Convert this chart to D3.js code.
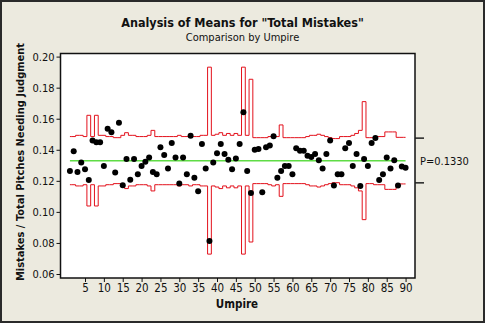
<!DOCTYPE html>
<html>
<head>
<meta charset="utf-8">
<script src="https://cdn.jsdelivr.net/npm/d3@7"></script>
<style>
  html, body { margin: 0; padding: 0; background: #eceadf; }
  body { width: 485px; height: 323px; overflow: hidden; }
  svg { display: block; }
  text { font-family: "DejaVu Sans Condensed", "DejaVu Sans", sans-serif; fill: #111; }
</style>
</head>
<body>
<svg id="chart" width="485" height="323"></svg>
<script>
// Umpire numbers 1..90
const umpires = d3.range(1, 91);

// Proportion of mistakes per umpire
const proportions = [
  0.1263, 0.1390, 0.1257, 0.1318, 0.1274, 0.1205, 0.1459, 0.1448, 0.1448, 0.1295,
  0.1535, 0.1513, 0.1253, 0.1574, 0.1172, 0.1340, 0.1207, 0.1340, 0.1242, 0.1295,
  0.1323, 0.1350, 0.1257, 0.1242, 0.1416, 0.1366, 0.1279, 0.1444, 0.1351, 0.1183,
  0.1350, 0.1242, 0.1491, 0.1220, 0.1133, 0.1437, 0.1279, 0.0812, 0.1318, 0.1377,
  0.1437, 0.1372, 0.1335, 0.1274, 0.1344, 0.1437, 0.1642, 0.1263, 0.1122, 0.1400,
  0.1405, 0.1126, 0.1416, 0.1428, 0.1487, 0.1220, 0.1263, 0.1295, 0.1295, 0.1242,
  0.1409, 0.1394, 0.1394, 0.1361, 0.1354, 0.1372, 0.1333, 0.1279, 0.1372, 0.1459,
  0.1170, 0.1242, 0.1242, 0.1409, 0.1444, 0.1295, 0.1372, 0.1166, 0.1340, 0.1295,
  0.1444, 0.1476, 0.1205, 0.1242, 0.1351, 0.1279, 0.1333, 0.1170, 0.1292, 0.1285
];

// Half-width of the decision limits per umpire (depends on sample size)
const halfWidths = [
  0.0155, 0.0155, 0.0163, 0.0163, 0.0155, 0.0292, 0.0155, 0.0292, 0.0163, 0.0163,
  0.0155, 0.0155, 0.0148, 0.0148, 0.0163, 0.0180, 0.0163, 0.0163, 0.0155, 0.0155,
  0.0155, 0.0163, 0.0195, 0.0155, 0.0155, 0.0155, 0.0155, 0.0155, 0.0155, 0.0163,
  0.0155, 0.0155, 0.0163, 0.0155, 0.0155, 0.0163, 0.0163, 0.0602, 0.0163, 0.0170,
  0.0180, 0.0163, 0.0175, 0.0163, 0.0175, 0.0163, 0.0602, 0.0163, 0.0524, 0.0148,
  0.0148, 0.0148, 0.0148, 0.0155, 0.0163, 0.0155, 0.0230, 0.0148, 0.0148, 0.0148,
  0.0148, 0.0148, 0.0148, 0.0155, 0.0163, 0.0163, 0.0170, 0.0163, 0.0155, 0.0148,
  0.0142, 0.0142, 0.0155, 0.0155, 0.0155, 0.0163, 0.0175, 0.0195, 0.0380, 0.0148,
  0.0148, 0.0155, 0.0155, 0.0155, 0.0185, 0.0185, 0.0185, 0.0150, 0.0150, 0.0150
];

const centerP = 0.1330;
const sideMarks = [0.1475, 0.1187];

const yTicks = [0.06, 0.08, 0.10, 0.12, 0.14, 0.16, 0.18, 0.20];
const xTicks = d3.range(5, 91, 5);

const titleText = 'Analysis of Means for "Total Mistakes"';
const subtitleText = "Comparison by Umpire";
const xLabel = "Umpire";
const yLabel = "Mistakes / Total Pitches Needing Judgment";

const W = 485, H = 323;
const frame = { left: 60.5, right: 415, top: 53.5, bottom: 278 };

const svg = d3.select("#chart");

// page background and outer border
svg.append("rect").attr("x", 0).attr("y", 0).attr("width", W).attr("height", H)
  .attr("fill", "#eceadf");
svg.append("rect").attr("x", 1).attr("y", 1).attr("width", W - 2).attr("height", H - 2)
  .attr("fill", "none").attr("stroke", "#2a2a2a").attr("stroke-width", 2);

const x = d3.scaleLinear().domain([-1.5, 92.5]).range([frame.left, frame.right]);
const y = d3.scaleLinear().domain([0.06, 0.20]).range([274, 56.6]);

// plot area
svg.append("rect")
  .attr("x", frame.left).attr("y", frame.top)
  .attr("width", frame.right - frame.left).attr("height", frame.bottom - frame.top)
  .attr("fill", "#ffffff");

// axes
const yAxis = svg.append("g")
  .attr("transform", `translate(${frame.left},0)`)
  .call(d3.axisLeft(y).tickValues(yTicks).tickFormat(d3.format(".2f")).tickSize(4).tickPadding(2));
yAxis.select(".domain").remove();
yAxis.selectAll("line").attr("stroke", "#111");
yAxis.selectAll("text").attr("font-size", 11).attr("font-family", null);

const xAxis = svg.append("g")
  .attr("transform", `translate(0,${frame.bottom})`)
  .call(d3.axisBottom(x).tickValues(xTicks).tickFormat(d3.format("d")).tickSize(4).tickPadding(2));
xAxis.select(".domain").remove();
xAxis.selectAll("line").attr("stroke", "#111");
xAxis.selectAll("text").attr("font-size", 11.5).attr("font-family", null);

// decision limits (stepped), drawn per umpire
const stepLine = d3.line().curve(d3.curveStep).x(d => x(d[0])).y(d => y(d[1]));
const upper = umpires.map((u, i) => [u, centerP + halfWidths[i]]);
const lower = umpires.map((u, i) => [u, centerP - halfWidths[i]]);

svg.append("path").datum(upper).attr("d", stepLine)
  .attr("fill", "none").attr("stroke", "#e3111c").attr("stroke-width", 1);
svg.append("path").datum(lower).attr("d", stepLine)
  .attr("fill", "none").attr("stroke", "#e3111c").attr("stroke-width", 1);

// center line
svg.append("line")
  .attr("x1", x(umpires[0])).attr("x2", x(umpires[umpires.length - 1]))
  .attr("y1", y(centerP)).attr("y2", y(centerP))
  .attr("stroke", "#5fdc45").attr("stroke-width", 1.5);

// points
svg.append("g").selectAll("circle")
  .data(umpires.map((u, i) => [u, proportions[i]]))
  .join("circle")
  .attr("cx", d => x(d[0])).attr("cy", d => y(d[1]))
  .attr("r", 3).attr("fill", "#000");

// frame
svg.append("rect")
  .attr("x", frame.left).attr("y", frame.top)
  .attr("width", frame.right - frame.left).attr("height", frame.bottom - frame.top)
  .attr("fill", "none").attr("stroke", "#111").attr("stroke-width", 1.5);

// side marks for the decision limits
svg.append("g").selectAll("line")
  .data(sideMarks)
  .join("line")
  .attr("x1", frame.right).attr("x2", frame.right + 9)
  .attr("y1", d => y(d)).attr("y2", d => y(d))
  .attr("stroke", "#222").attr("stroke-width", 1.5);

// center value label
svg.append("text")
  .attr("x", 420).attr("y", y(centerP) + 4)
  .attr("font-size", 11)
  .text("P=" + centerP.toFixed(4));

// titles
svg.append("text")
  .attr("x", 242.5).attr("y", 27)
  .attr("text-anchor", "middle").attr("font-size", 12.5).attr("font-weight", "bold")
  .text(titleText);
svg.append("text")
  .attr("x", 242.5).attr("y", 41)
  .attr("text-anchor", "middle").attr("font-size", 11)
  .text(subtitleText);

svg.append("text")
  .attr("x", 237).attr("y", 308)
  .attr("text-anchor", "middle").attr("font-size", 11.5).attr("font-weight", "bold")
  .text(xLabel);

svg.append("text")
  .attr("transform", `translate(24,162) rotate(-90)`)
  .attr("text-anchor", "middle").attr("font-size", 11).attr("font-weight", "bold")
  .text(yLabel);
</script>
</body>
</html>
